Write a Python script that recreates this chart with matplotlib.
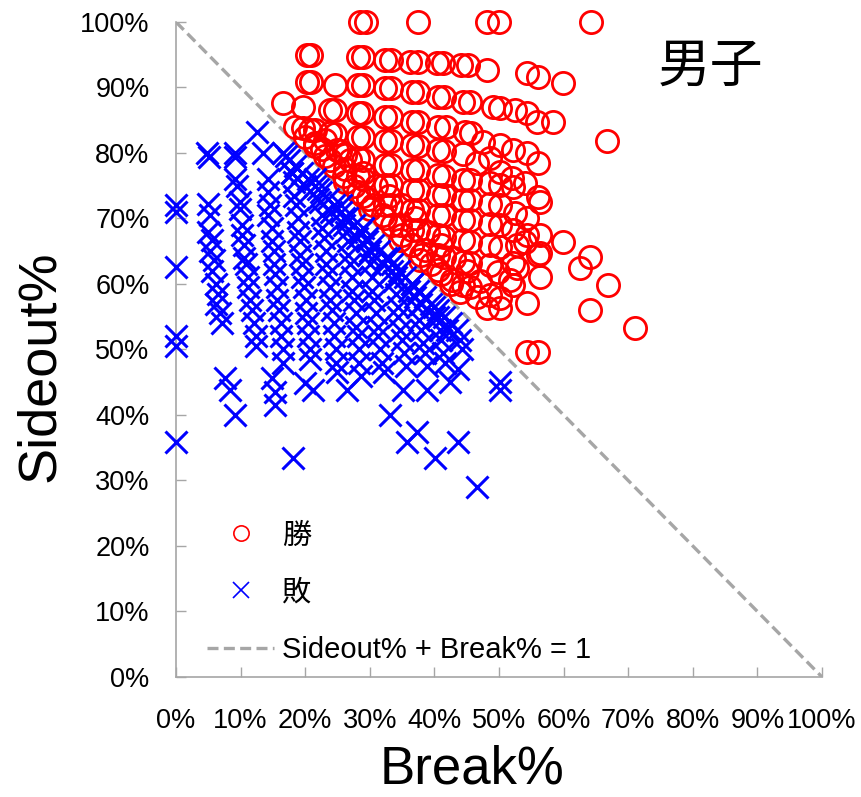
import matplotlib
matplotlib.use("Agg")
import matplotlib.pyplot as plt
from matplotlib.lines import Line2D

plt.rcParams['font.family'] = ['Liberation Sans', 'Noto Sans CJK JP', 'DejaVu Sans']

# ── 勝ったセット (Break%, Sideout%) ──────────────
win_points = [
    (28.5, 100), (29.4, 100), (37.5, 100), (48.1, 100), (50.0, 100), (64.3, 100),
    (20.3, 95.0), (20.9, 95.0), (28.2, 94.7), (29.0, 94.7), (32.4, 94.2), (33.3, 94.2),
    (36.2, 93.9), (37.5, 93.9), (40.4, 93.7), (41.3, 93.7), (44.1, 93.4), (45.2, 93.4),
    (48.1, 92.7), (54.3, 92.2), (56.0, 91.6), (59.9, 90.7),
    (20.3, 90.8), (20.9, 90.8), (24.6, 90.4), (28.2, 90.4), (28.9, 90.4), (32.4, 89.9),
    (33.3, 89.9), (36.5, 89.3), (37.5, 89.3), (40.6, 88.5), (41.5, 88.5), (44.4, 87.8),
    (45.5, 87.8), (49.1, 87.0), (50.2, 86.9), (52.5, 86.6), (54.3, 86.1), (55.9, 84.7),
    (58.4, 84.7),
    (16.6, 87.6), (19.7, 87.0), (23.8, 86.6), (24.6, 86.6), (28.2, 86.1), (28.8, 86.1),
    (32.4, 85.5), (33.3, 85.5), (36.5, 84.7), (37.5, 84.7), (40.6, 84.0), (41.8, 84.0),
    (44.7, 83.2), (45.7, 83.1), (47.5, 81.7), (50.2, 81.2), (52.2, 80.5), (54.3, 80.0),
    (56.0, 78.5), (66.7, 81.8),
    (19.7, 83.8), (20.7, 83.5), (23.8, 83.1), (24.6, 82.9), (28.2, 82.4), (28.9, 82.4),
    (32.4, 81.8), (33.3, 81.8), (36.5, 81.2), (37.5, 81.1), (40.6, 80.5), (41.5, 80.3),
    (44.4, 79.8), (46.6, 78.5), (48.6, 79.2), (50.2, 77.1), (52.0, 76.2), (54.0, 75.4),
    (56.0, 73.3),
    (21.5, 81.5), (22.6, 80.6), (25.4, 80.3), (26.2, 79.7), (28.2, 79.2), (28.9, 78.9),
    (32.4, 78.2), (33.3, 78.2), (36.5, 77.4), (37.5, 77.4), (40.6, 76.6), (41.5, 76.5),
    (44.4, 75.9), (45.5, 75.9), (48.6, 75.4), (50.2, 75.1), (52.2, 74.8), (56.3, 72.5),
    (23.8, 79.0), (26.2, 77.5), (28.2, 76.5), (28.9, 76.0), (32.4, 75.1), (33.3, 75.1),
    (36.5, 74.4), (37.5, 74.4), (40.6, 73.6), (41.5, 73.6), (44.4, 72.8), (45.5, 72.8),
    (48.6, 72.2), (50.2, 72.1), (52.5, 70.8), (54.3, 70.1),
    (26.2, 75.5), (28.2, 74.0), (29.8, 73.0), (32.4, 72.1), (33.3, 72.1), (36.5, 71.3),
    (37.5, 71.3), (40.6, 70.5), (41.5, 70.5), (44.4, 69.8), (45.5, 69.8), (48.6, 69.2),
    (50.2, 69.0), (52.2, 68.2), (54.3, 67.5), (56.3, 67.5),
    (30.0, 71.5), (32.4, 70.0), (34.7, 69.0), (36.5, 68.2), (37.5, 68.2), (40.6, 67.5),
    (41.5, 67.2), (44.4, 66.7), (45.5, 66.4), (48.6, 66.0), (50.2, 65.6), (52.8, 66.0),
    (54.0, 66.4), (56.3, 64.7), (59.9, 66.4),
    (34.7, 66.7), (36.5, 66.0), (38.5, 65.2), (40.6, 64.4), (41.5, 64.1), (44.4, 63.4),
    (45.5, 63.2), (48.6, 62.9), (49.8, 61.8), (52.2, 63.2), (52.8, 62.4), (56.0, 64.4),
    (56.3, 61.1), (64.1, 64.1), (62.5, 62.4),
    (37.8, 63.7), (40.6, 62.1), (42.7, 60.6), (44.4, 59.8), (45.5, 59.5), (46.6, 58.0),
    (48.6, 58.3), (50.2, 57.9), (48.1, 56.3), (50.2, 56.3), (52.2, 59.8), (51.7, 60.6),
    (54.3, 57.1), (54.3, 49.6), (56.0, 49.6), (66.9, 59.8), (64.1, 56.0), (71.1, 53.3),
    # ライン沿いの密集部分
    (18.5, 84.0), (20.0, 82.5), (21.5, 81.0), (23.0, 79.5), (24.5, 78.0), (26.0, 76.5),
    (27.5, 75.0), (29.0, 73.5), (30.5, 72.0), (32.0, 70.5), (33.5, 69.0), (35.0, 67.5),
    (36.5, 66.0), (38.0, 64.5), (39.5, 63.0), (41.0, 61.5), (42.5, 60.0), (44.0, 58.8),
    (21.5, 83.5), (23.0, 82.0), (25.0, 80.5), (27.0, 79.0), (29.0, 77.0), (31.0, 75.0),
    (33.0, 73.5), (35.0, 72.0), (37.0, 70.0), (39.0, 68.0), (41.0, 66.0), (43.0, 64.0),
    (45.0, 62.0), (47.0, 60.5),
]

# ── 負けたセット (Break%, Sideout%) ──────────────
loss_points = [
    (0, 72.0), (0, 71.0), (0, 62.6), (0, 52.0), (0, 50.5), (0, 35.9),
    (4.8, 80.0), (5.1, 79.4), (5.0, 72.2), (5.3, 70.5), (5.0, 68.0), (5.6, 66.7),
    (5.3, 65.0), (5.9, 63.6), (5.6, 62.0), (6.2, 60.0), (6.5, 58.5), (6.2, 57.0),
    (6.8, 55.5), (7.1, 54.0), (7.6, 45.6), (8.4, 43.8),
    (9.1, 80.0), (9.1, 79.4), (9.1, 76.0), (9.4, 75.0), (9.9, 72.5), (9.9, 71.5),
    (10.2, 69.0), (10.2, 67.5), (10.5, 66.0), (10.5, 64.0), (10.8, 63.0), (11.1, 61.0),
    (11.1, 59.5), (11.5, 57.5), (11.8, 56.0), (12.1, 54.0), (12.4, 52.0), (12.4, 50.5),
    (9.1, 40.0),
    (12.5, 83.2), (13.5, 80.0), (14.2, 76.0), (14.2, 74.0), (14.5, 72.0), (14.2, 70.5),
    (14.8, 68.5), (14.8, 66.5), (15.1, 65.0), (15.1, 63.0), (15.4, 61.5), (15.7, 59.5),
    (15.7, 57.5), (16.0, 56.0), (16.3, 54.0), (16.3, 52.0), (16.6, 50.0), (16.6, 48.0),
    (14.9, 45.6), (15.3, 43.5), (15.3, 41.5),
    (17.0, 79.5), (18.0, 77.0), (18.3, 75.5), (18.3, 73.5), (18.6, 72.0), (18.9, 70.0),
    (18.9, 68.0), (19.2, 66.5), (19.2, 64.5), (19.5, 63.0), (19.5, 61.0), (19.8, 59.5),
    (20.1, 57.5), (20.1, 55.5), (20.4, 54.0), (20.4, 52.0), (20.7, 50.0), (20.7, 48.5),
    (20.0, 44.9), (21.2, 43.8), (18.1, 33.4),
    (21.5, 76.0), (22.0, 74.5), (22.3, 72.5), (22.6, 70.5), (22.6, 68.5), (22.9, 67.0),
    (23.2, 65.0), (23.2, 63.0), (23.5, 61.5), (23.8, 59.5), (23.8, 57.5), (24.1, 56.0),
    (24.4, 54.0), (24.4, 52.0), (24.7, 50.0), (24.7, 48.0), (25.0, 46.5),
    (25.5, 72.0), (26.0, 70.0), (26.3, 68.0), (26.6, 66.5), (26.6, 64.5), (26.9, 63.0),
    (27.2, 61.0), (27.2, 59.0), (27.5, 57.5), (27.8, 55.5), (27.8, 53.5), (28.1, 52.0),
    (28.4, 50.0), (28.4, 48.0), (26.5, 43.8), (28.7, 46.0),
    (29.0, 68.5), (29.5, 66.5), (29.8, 64.5), (30.1, 63.0), (30.4, 61.0), (30.4, 59.0),
    (30.7, 57.5), (31.0, 55.5), (31.3, 53.5), (31.3, 52.0), (31.6, 50.0), (31.9, 48.0),
    (32.2, 46.5),
    (33.0, 64.0), (33.5, 62.0), (33.8, 60.5), (34.1, 58.5), (34.4, 56.5), (34.4, 55.0),
    (34.7, 53.0), (35.0, 51.5), (35.3, 49.5), (35.6, 47.5), (33.1, 40.0), (35.1, 43.8),
    (36.5, 60.0), (37.0, 58.0), (37.3, 56.5), (37.6, 54.5), (37.9, 53.0), (38.2, 51.0),
    (38.5, 49.5), (38.8, 47.5), (38.9, 43.8), (35.8, 35.9), (37.3, 37.4),
    (40.0, 56.5), (40.5, 55.0), (40.8, 53.0), (41.1, 51.5), (41.4, 49.5), (41.7, 48.0),
    (42.4, 45.0), (40.1, 33.4),
    (43.5, 53.0), (44.0, 51.5), (44.3, 50.0), (43.7, 47.0), (43.7, 35.9), (46.6, 29.0),
    (50.2, 45.0), (50.2, 43.8),
    # ライン直下の帯
    (16.5, 80.0), (17.5, 79.0), (18.5, 78.0), (19.5, 77.0), (20.5, 76.0), (21.5, 75.0),
    (22.5, 74.0), (23.5, 73.0), (24.5, 72.0), (25.5, 71.0), (26.5, 70.0), (27.5, 69.0),
    (28.5, 68.0), (29.5, 67.0), (30.5, 66.0), (31.5, 65.0), (32.5, 64.0), (33.5, 63.0),
    (34.5, 62.0), (35.5, 61.0), (36.5, 60.0), (37.5, 59.0), (38.5, 58.0), (39.5, 57.0),
    (40.5, 56.0), (41.5, 55.0), (42.5, 54.0),
    (18.0, 77.0), (20.0, 75.0), (22.0, 73.0), (24.0, 71.0), (26.0, 69.0), (28.0, 67.0),
    (30.0, 65.0), (32.0, 63.0), (34.0, 61.0), (36.0, 59.0), (38.0, 57.0), (40.0, 55.0),
    (42.0, 53.0),
]

ticks = list(range(0, 101, 10))
tick_labels = [f"{t}%" for t in ticks]

grey = '#A6A6A6'

fig = plt.figure(figsize=(8.61, 7.97), dpi=100)
ax = fig.add_axes([0.2044, 0.1506, 0.7503, 0.8218])

wb, ws = zip(*win_points)
lb, ls = zip(*loss_points)
ax.plot(wb, ws, 'o', ls='none', ms=16, mfc='none', mec='#FF0000', mew=2.0,
        clip_on=False, zorder=3)
ax.plot(lb, ls, 'x', ls='none', ms=16, mec='#0000FF', mew=2.2,
        clip_on=False, zorder=4)
ax.plot([0, 100], [100, 0], color=grey, lw=2.4, ls=(0, (3.3, 1.6)), zorder=2)

ax.set_xlim(0, 100)
ax.set_ylim(0, 100)
ax.set_xticks(ticks)
ax.set_yticks(ticks)
ax.set_xticklabels(tick_labels)
ax.set_yticklabels(tick_labels)
ax.tick_params(direction='in', length=7, width=1, color=grey, labelsize=19.5)
ax.tick_params(axis='y', pad=19)
ax.tick_params(axis='x', pad=22)
for side in ('top', 'right'):
    ax.spines[side].set_visible(False)
for side in ('left', 'bottom'):
    ax.spines[side].set_color(grey)
    ax.spines[side].set_linewidth(1.2)

# 軸ラベル
fig.text(0.548, 0.017, 'Break%', fontsize=38, ha='center', va='baseline')
fig.text(0.046, 0.54, 'Sideout%', fontsize=39, rotation=90,
         ha='center', va='center')

ax.text(0.827, 0.930, '男子', transform=ax.transAxes, fontsize=38,
        ha='center', va='center')

handles = [
    Line2D([], [], marker='o', ls='none', ms=11, mfc='none', mec='#FF0000', mew=1.2),
    Line2D([], [], marker='x', ls='none', ms=12, mec='#0000FF', mew=1.2),
    Line2D([], [], color=grey, lw=2.4, ls=(0, (3.3, 1.6))),
]
ax.legend(handles, ['勝', '敗', 'Sideout% + Break% = 1'], loc='lower left',
          bbox_to_anchor=(0.048, 0.02), frameon=False, fontsize=21,
          borderpad=0, borderaxespad=0, handlelength=2.3, handletextpad=0.28,
          labelspacing=1.0)

fig.savefig('out.png', dpi=100)
